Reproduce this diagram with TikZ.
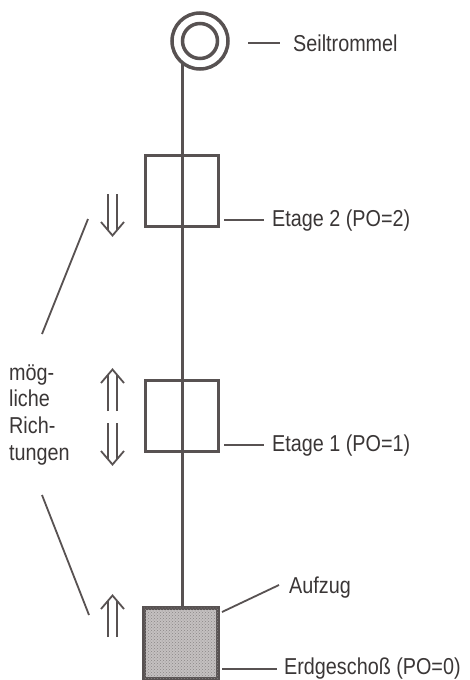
\documentclass[tikz,border=0pt]{standalone}
\usepackage{fontspec}
\setmainfont[FakeStretch=0.86]{Liberation Sans}
\usetikzlibrary{patterns,calc}
\definecolor{ink}{RGB}{88,82,82}
\definecolor{txt}{RGB}{58,54,54}
\definecolor{screen}{RGB}{196,192,192}
\tikzset{
  line/.style={draw=ink, line width=3pt},
  leader/.style={draw=ink, line width=1.8pt},
  floorbox/.style={draw=ink, line width=3pt, minimum width=73pt, minimum height=71pt, inner sep=0pt},
  liftbox/.style={draw=ink, line width=4pt, fill=screen, minimum width=74pt, minimum height=71pt, inner sep=0pt},
  ring/.style={circle, draw=ink, line width=3.5pt, inner sep=0pt},
  lbl/.style={text=txt, inner sep=0pt, anchor=base west, font=\fontsize{23}{27}\selectfont},
  dblarrow/.pic={
    \draw[ink, line width=1.8pt] (-4.5,-21) -- (-4.5,15) (4.5,-21) -- (4.5,15);
    \draw[ink, line width=1.8pt, line join=miter] (-11.5,7) -- (0,20.5) -- (11.5,7);
  }
}
\begin{document}
\begin{tikzpicture}[x=1pt, y=-1pt]
  \useasboundingbox[fill=white] (0,0) rectangle (470,680);

  % rope drum: the rope leaves the hub tangentially on its left side
  \node[ring, minimum size=56pt] (drum) at (200,41) {};
  \node[ring, minimum size=35pt] (hub) at (200,41) {};
  \coordinate (ropetop) at (182,64);

  % floors and lift cabin
  \node[floorbox] (e2) at (181.5,191) {};
  \node[floorbox] (e1) at (181.5,416) {};
  \node[liftbox] (lift) at (181,643) {};
  \fill[pattern=crosshatch dots, pattern color=ink!70] ($(lift.south west)+(2,-2)$) rectangle ($(lift.north east)+(-2,2)$);

  % rope
  \draw[line] (ropetop) -- (ropetop |- lift.north);

  % labels
  \node[lbl] (lseil) at (293,51) {Seiltrommel};
  \node[lbl] (le2) at (272,226) {Etage 2 (PO=2)};
  \node[lbl] (le1) at (272,451) {Etage 1 (PO=1)};
  \node[lbl] (lauf) at (289,593) {Aufzug};
  \node[lbl] (leg) at (284,674) {Erdgescho\ss{} (PO=0)};

  \coordinate (s1) at (248,43);
  \coordinate (s2) at (280,43);
  \draw[leader] (s1) -- (s2);
  \coordinate (a2) at (224,220);
  \coordinate (b2) at (264,220);
  \draw[leader] (a2) -- (b2);
  \coordinate (a1) at (224,445);
  \coordinate (b1) at (264,445);
  \draw[leader] (a1) -- (b1);
  \coordinate (au1) at (222,612);
  \coordinate (au2) at (279,585);
  \draw[leader] (au1) -- (au2);
  \coordinate (eg1) at (222,669);
  \coordinate (eg2) at (277,669);
  \draw[leader] (eg1) -- (eg2);

  % direction text
  \node[lbl] (d1) at (9,380) {mög-};
  \node[lbl] (d2) at (9,406) {liche};
  \node[lbl] (d3) at (9,433) {Rich-};
  \node[lbl] (d4) at (9,460) {tungen};

  % direction arrows
  \pic (ar2) at (112.5,215) {dblarrow};
  \pic[rotate=180] (au1p) at (112.5,390) {dblarrow};
  \pic (ad1) at (112.5,444) {dblarrow};
  \pic[rotate=180] (aup0) at (112.5,616) {dblarrow};

  \coordinate (p1) at (42,334);
  \coordinate (p2) at (88,219);
  \coordinate (q1) at (42,495);
  \coordinate (q2) at (89,615);
  \draw[leader] (p1) -- (p2);
  \draw[leader] (q1) -- (q2);
\end{tikzpicture}
\end{document}
